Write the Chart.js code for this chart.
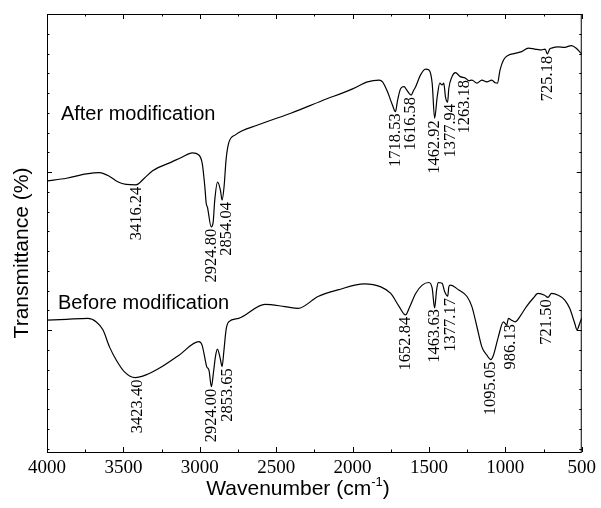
<!DOCTYPE html>
<html>
<head>
<meta charset="utf-8">
<script src="https://cdn.jsdelivr.net/npm/chart.js@4.4.1/dist/chart.umd.min.js"></script>
<style>
  html, body { margin: 0; padding: 0; background: #fff; }
  #wrap { width: 601px; height: 508px; }
</style>
</head>
<body>
<div id="wrap"><canvas id="ftirChart" width="601" height="508"></canvas></div>
<script>
// FTIR spectra, transmittance (arbitrary % scale)
const afterWave = [4000, 3872, 3742, 3656, 3590, 3537, 3482, 3417, 3363, 3309,
  3179, 3117, 3049, 3006, 2984, 2967, 2958, 2950, 2925, 2913,
  2902, 2884, 2865, 2854, 2841, 2828, 2811, 2767, 2616, 2400,
  2200, 2000, 1902, 1826, 1804, 1772, 1739, 1719, 1707, 1685,
  1663, 1645, 1630, 1617, 1600, 1587, 1555, 1522, 1500, 1479,
  1463, 1446, 1429, 1414, 1403, 1392, 1378, 1370, 1349, 1327,
  1295, 1263, 1240, 1219, 1186, 1154, 1121, 1089, 1067, 1052,
  1035, 1012, 980, 937, 893, 850, 807, 763, 740, 725,
  710, 698, 654, 611, 568, 536, 504, 500];
const afterT = [61.9, 62.5, 63.5, 63.8, 62.9, 61.7, 61.1, 61.0, 62.5, 64.2,
  66.3, 67.3, 68.3, 67.8, 65.9, 60.6, 56.8, 55.9, 51.4, 52.3,
  57.5, 61.6, 59.8, 57.5, 60.6, 66.7, 70.5, 72.4, 74.7, 77.4,
  80.2, 82.9, 84.5, 84.9, 84.5, 82.3, 79.2, 77.7, 80.0, 83.0,
  83.4, 82.6, 81.9, 81.5, 82.6, 83.4, 86.1, 87.4, 87.2, 84.2,
  76.2, 81.1, 84.2, 83.8, 84.2, 81.1, 79.9, 83.0, 85.7, 86.6,
  85.7, 85.4, 84.8, 84.9, 84.2, 84.9, 84.5, 84.9, 84.3, 84.2,
  87.2, 89.5, 90.6, 91.0, 91.4, 92.2, 92.0, 91.8, 92.0, 90.9,
  92.0, 92.2, 92.5, 92.4, 92.8, 92.2, 91.0, 90.9];

const beforeWave = [4000, 3872, 3732, 3677, 3634, 3591, 3547, 3493, 3423, 3352,
  3266, 3136, 3006, 2985, 2967, 2955, 2940, 2924, 2910, 2897,
  2885, 2867, 2854, 2843, 2828, 2811, 2746, 2573, 2443, 2356,
  2226, 2096, 1923, 1815, 1750, 1695, 1653, 1630, 1587, 1544,
  1500, 1479, 1463, 1450, 1440, 1414, 1397, 1377, 1370, 1360,
  1305, 1251, 1219, 1186, 1154, 1121, 1095, 1078, 1046, 1013,
  991, 980, 959, 937, 905, 862, 818, 786, 743, 721,
  698, 654, 611, 579, 546, 531, 513, 500];
const beforeT = [30.1, 30.3, 30.5, 29.7, 27.9, 24.0, 21.0, 18.3, 17.0, 17.6,
  19.1, 22.1, 25.2, 24.4, 21.5, 19.5, 18.7, 14.9, 18.3, 21.9,
  23.5, 21.5, 19.5, 22.8, 27.9, 29.7, 30.5, 33.7, 33.2, 32.8,
  35.5, 37.0, 38.4, 37.7, 36.2, 33.2, 31.3, 32.8, 36.2, 38.1,
  38.7, 37.4, 32.9, 37.0, 38.7, 38.5, 36.6, 35.6, 37.7, 38.1,
  37.0, 35.5, 33.2, 28.6, 24.0, 22.1, 21.1, 22.1, 26.3, 29.7,
  29.0, 30.5, 30.1, 29.7, 30.9, 33.2, 35.1, 36.2, 35.8, 35.3,
  36.2, 35.8, 34.7, 32.8, 29.4, 27.9, 29.4, 30.6];

const afterPeaks = ['3416.24', '2924.80', '2854.04', '1718.53', '1616.58', '1462.92', '1377.94', '1263.18', '725.18'];
const beforePeaks = ['3423.40', '2924.00', '2853.65', '1652.84', '1463.63', '1377.17', '1095.05', '986.13', '721.50'];

const xTickLabels = [4000, 3500, 3000, 2500, 2000, 1500, 1000, 500];

// small sideways shifts so crowded labels don't sit on the curve
const labelNudge = { '2854.04': 5, '2853.65': 6, '3423.40': 3, '1377.94': 3, '1377.17': 3, '986.13': 3, '721.50': -1 };

function toPoints(waves, vals) {
  return waves.map((w, i) => ({ x: w, y: vals[i] }));
}

function valueAt(waves, vals, w) {
  for (let i = 0; i < waves.length - 1; i++) {
    if (w <= waves[i] && w >= waves[i + 1]) {
      const t = (waves[i] - w) / (waves[i] - waves[i + 1]);
      return vals[i] + t * (vals[i + 1] - vals[i]);
    }
  }
  return vals[vals.length - 1];
}

const frameAndNotes = {
  id: "frameAndNotes",
  afterDatasetsDraw(chart) {
    const { ctx, chartArea: a, scales } = chart;
    const xs = scales.x, ys = scales.y;
    ctx.save();
    ctx.strokeStyle = "#000";
    ctx.lineWidth = 1;
    ctx.strokeRect(a.left + 0.5, a.top + 0.5, a.right - a.left - 1, a.bottom - a.top);

    const seg = (x1, y1, x2, y2) => { ctx.beginPath(); ctx.moveTo(x1, y1); ctx.lineTo(x2, y2); ctx.stroke(); };

    // inward ticks, every 250 cm-1, long at every 500
    for (let w = 500; w <= 4000; w += 250) {
      const px = Math.round(xs.getPixelForValue(w)) + 0.5;
      const len = w % 500 === 0 ? 5 : 2.5;
      seg(px, a.bottom, px, a.bottom - len);
      seg(px, a.top, px, a.top + len);
    }
    for (let k = 0; k * 4.51 <= 100; k++) {
      const py = Math.round(ys.getPixelForValue(100 - k * 4.51)) + 0.5;
      const len = k % 8 === 0 ? 5 : 2.5;
      seg(a.left, py, a.left + len, py);
      seg(a.right, py, a.right - len, py);
    }

    ctx.fillStyle = "#000";
    // sample names
    ctx.font = "20px 'Liberation Sans', Arial, sans-serif";
    ctx.textAlign = "left";
    ctx.textBaseline = "alphabetic";
    ctx.fillText("After modification", xs.getPixelForValue(3909), ys.getPixelForValue(75.8));
    ctx.fillText("Before modification", xs.getPixelForValue(3928), ys.getPixelForValue(32.6));

    // peak positions, vertical
    ctx.font = "16.5px 'Liberation Serif', 'Times New Roman', serif";
    const drawPeaks = (labels, waves, vals) => {
      labels.forEach((lab) => {
        const w = parseFloat(lab);
        const px = xs.getPixelForValue(w) + (labelNudge[lab] || 0);
        const py = ys.getPixelForValue(valueAt(waves, vals, w)) + 2;
        ctx.save();
        ctx.translate(px, py);
        ctx.rotate(-Math.PI / 2);
        ctx.textAlign = "right";
        ctx.textBaseline = "middle";
        ctx.fillText(lab, 0, 0);
        ctx.restore();
      });
    };
    drawPeaks(afterPeaks, afterWave, afterT);
    drawPeaks(beforePeaks, beforeWave, beforeT);

    // axis titles
    ctx.save();
    ctx.font = "21px 'Liberation Sans', Arial, sans-serif";
    ctx.translate(22, 253);
    ctx.rotate(-Math.PI / 2);
    ctx.textAlign = "center";
    ctx.textBaseline = "middle";
    ctx.fillText("Transmittance (%)", 0, 0);
    ctx.restore();

    const main = "Wavenumber (cm", sup = "-1", tail = ")";
    ctx.font = "21px 'Liberation Sans', Arial, sans-serif";
    const wMain = ctx.measureText(main).width, wTail = ctx.measureText(tail).width;
    ctx.font = "13px 'Liberation Sans', Arial, sans-serif";
    const wSup = ctx.measureText(sup).width;
    let tx = 298 - (wMain + wSup + wTail) / 2;
    const base = 495;
    ctx.textAlign = "left";
    ctx.textBaseline = "alphabetic";
    ctx.font = "21px 'Liberation Sans', Arial, sans-serif";
    ctx.fillText(main, tx, base);
    tx += wMain;
    ctx.font = "13px 'Liberation Sans', Arial, sans-serif";
    ctx.fillText(sup, tx, base - 9);
    tx += wSup;
    ctx.font = "21px 'Liberation Sans', Arial, sans-serif";
    ctx.fillText(tail, tx, base);
    ctx.restore();
  }
};

new Chart(document.getElementById("ftirChart").getContext("2d"), {
  type: "line",
  data: {
    datasets: [
      {
        label: "After modification",
        data: toPoints(afterWave, afterT),
        borderColor: "#000",
        borderWidth: 1.2,
        pointRadius: 0,
        cubicInterpolationMode: "monotone"
      },
      {
        label: "Before modification",
        data: toPoints(beforeWave, beforeT),
        borderColor: "#000",
        borderWidth: 1.2,
        pointRadius: 0,
        cubicInterpolationMode: "monotone"
      }
    ]
  },
  options: {
    responsive: false,
    animation: false,
    layout: { padding: { top: 14, right: 15, bottom: 0, left: 0 } },
    plugins: {
      legend: { display: false },
      tooltip: { enabled: false }
    },
    scales: {
      x: {
        type: "linear",
        reverse: true,
        min: 500,
        max: 4000,
        grid: { display: false, drawTicks: false, tickLength: 0 },
        border: { display: false },
        afterBuildTicks: (s) => { s.ticks = xTickLabels.map((v) => ({ value: v })); },
        ticks: {
          color: "#000",
          padding: 5,
          maxRotation: 0,
          autoSkip: false,
          callback: (v) => String(v),
          font: { family: "'Liberation Serif', 'Times New Roman', serif", size: 19 }
        },
        afterFit: (s) => { s.height = 56; }
      },
      y: {
        min: 0,
        max: 100,
        grid: { display: false, drawTicks: false, tickLength: 0 },
        border: { display: false },
        ticks: { display: false },
        afterFit: (s) => { s.width = 47; }
      }
    }
  },
  plugins: [frameAndNotes]
});
</script>
</body>
</html>
